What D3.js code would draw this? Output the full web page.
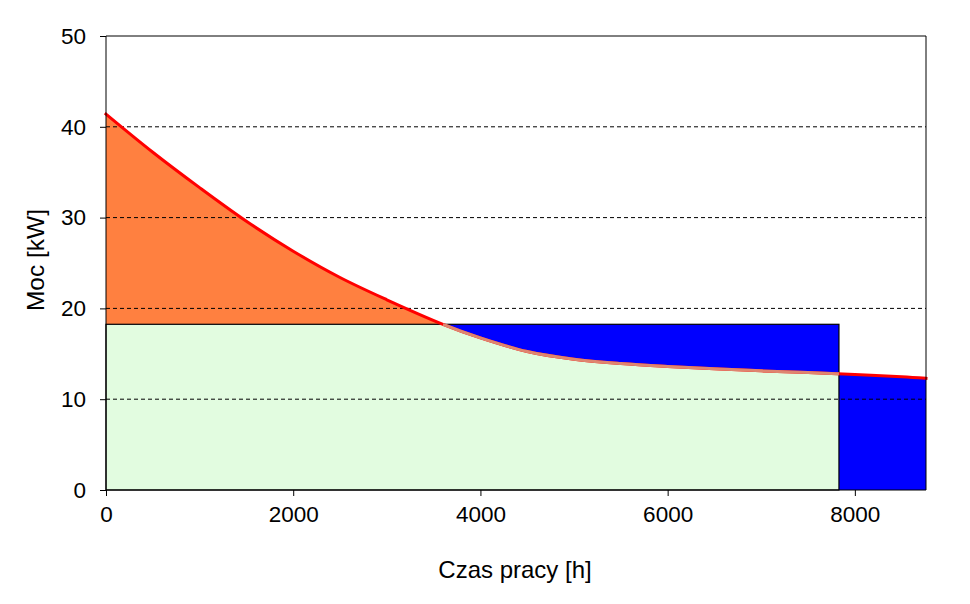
<!DOCTYPE html>
<html><head><meta charset="utf-8">
<script src="https://cdn.jsdelivr.net/npm/d3@7"></script>
<style>body{margin:0;background:#fff}svg{display:block}text{font-family:"Liberation Sans",Arial,sans-serif;fill:#000}</style>
</head><body><svg id="c" width="970" height="604"></svg>
<script>
const hours = [0, 500, 1000, 1500, 2000, 2500, 3000, 3600, 4000, 4500, 5000, 5500, 6000, 6500, 7000, 7500, 8000, 8500, 8760];
const power = [41.4, 37.2, 33.3, 29.6, 26.3, 23.4, 20.95, 18.25, 16.75, 15.25, 14.4, 13.92, 13.6, 13.35, 13.12, 12.95, 12.72, 12.48, 12.3];
const baseLevel = 18.25;      // kW, level of the rectangle
const crossHour = 3600;       // where curve meets the level
const rectEndHour = 7830;     // end of rectangle
const yearHours = 8760;
const xTicks = [0, 2000, 4000, 6000, 8000];
const yTicks = [0, 10, 20, 30, 40, 50];
const xTitle = "Czas pracy [h]";
const yTitle = "Moc [kW]";

const svg = d3.select("#c");
const x = d3.scaleLinear().domain([0, yearHours]).range([106, 926]);
const y = d3.scaleLinear().domain([0, 50]).range([490, 36]);
const pts = hours.map((h, i) => ({h, p: power[i]}));
const curve = d3.curveCatmullRom.alpha(0.5);
const defs = svg.append("defs");
function clip(id, x0, x1, y0, y1) {
  defs.append("clipPath").attr("id", id).append("rect")
    .attr("x", x(x0)).attr("width", x(x1) - x(x0))
    .attr("y", y(y1)).attr("height", y(y0) - y(y1));
  return `url(#${id})`;
}
const areaGen = d3.area().x(d => x(d.h)).y0(y(0)).y1(d => y(d.p)).curve(curve);
const line = d3.line().x(d => x(d.h)).y(d => y(d.p)).curve(curve);

// orange area under curve (visible above the level)
svg.append("path").datum(pts).attr("d", areaGen)
  .attr("clip-path", clip("cOr", 0, crossHour + 100, 0, 50))
  .attr("fill", "#FF8040");
// blue rectangle
svg.append("rect").attr("x", x(0)).attr("y", y(baseLevel))
  .attr("width", x(rectEndHour) - x(0)).attr("height", y(0) - y(baseLevel))
  .attr("fill", "#0000FF");
// blue area under curve after rectangle
svg.append("path").datum(pts).attr("d", areaGen)
  .attr("clip-path", clip("cBl", rectEndHour, yearHours, 0, 50))
  .attr("fill", "#0000FF");
// green area: under curve and under the level
svg.append("path").datum(pts).attr("d", areaGen)
  .attr("clip-path", clip("cGr", 0, rectEndHour, 0, baseLevel))
  .attr("fill", "#E2FCE0");
// rectangle outline
svg.append("rect").attr("x", x(0)).attr("y", y(baseLevel))
  .attr("width", x(rectEndHour) - x(0)).attr("height", y(0) - y(baseLevel))
  .attr("fill", "none").attr("stroke", "#000").attr("stroke-width", 1.2);

// gridlines
svg.append("g").selectAll("line").data(yTicks.filter(v => v > 0 && v < 50)).join("line")
  .attr("x1", x(0)).attr("x2", x(yearHours)).attr("y1", d => y(d)).attr("y2", d => y(d))
  .attr("stroke", "#000").attr("stroke-width", 1).attr("stroke-dasharray", "4,3");

// curve lines
svg.append("path").datum(pts).attr("d", line)
  .attr("fill", "none").attr("stroke", "#FF0000").attr("stroke-width", 3).attr("stroke-linecap", "square");
svg.append("path").datum(pts).attr("d", line)
  .attr("clip-path", clip("cSal", crossHour, rectEndHour, 0, baseLevel + 0.1))
  .attr("fill", "none").attr("stroke", "#DE8570").attr("stroke-width", 3);

// plot border top/right
svg.append("path").attr("d", `M${x(0)},${y(50)}H${x(yearHours)}V${y(0)}`)
  .attr("fill", "none").attr("stroke", "#000").attr("stroke-width", 1);

// axes
const xAxis = d3.axisBottom(x).tickValues(xTicks).tickSize(6).tickPadding(10).tickFormat(d3.format("d"));
const gx = svg.append("g").attr("transform", `translate(0,${y(0)})`).call(xAxis);
gx.select(".domain").attr("d", `M${x(0)},0H${x(yearHours)}`);
gx.selectAll("text").style("font-size", "22.5px").attr("fill", "#000");
const yAxis = d3.axisLeft(y).tickValues(yTicks).tickSize(6).tickPadding(14);
const gy = svg.append("g").attr("transform", `translate(${x(0)},0)`).call(yAxis);
gy.select(".domain").attr("d", `M0,${y(0)}V${y(50)}`);
gy.selectAll("text").style("font-size", "22.5px").attr("fill", "#000");
svg.selectAll(".domain, .tick line").attr("stroke", "#000");

svg.append("text").attr("x", 515).attr("y", 578).attr("text-anchor", "middle")
  .style("font-size", "24px").text(xTitle);
svg.append("text").attr("transform", "translate(44,260) rotate(-90)").attr("text-anchor", "middle")
  .style("font-size", "24.5px").text(yTitle);
</script></body></html>
